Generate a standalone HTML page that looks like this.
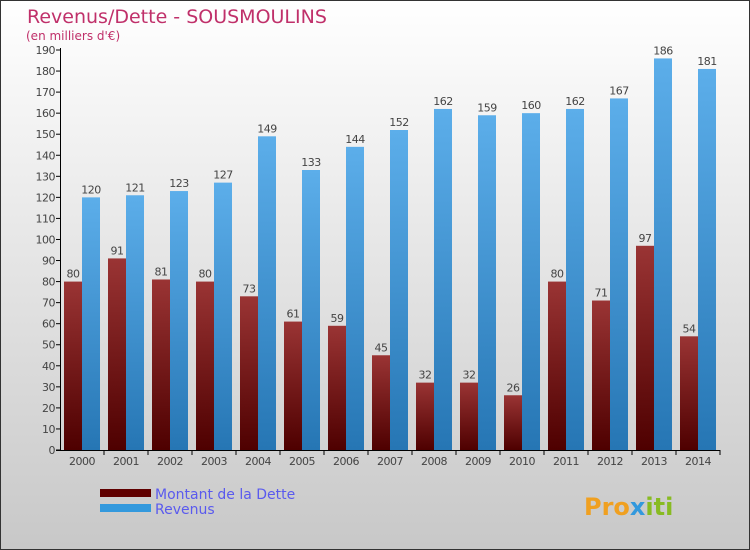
<!DOCTYPE html>
<html><head><meta charset="utf-8"><style>
body{margin:0}
#c{position:relative;width:750px;height:550px;box-sizing:border-box;border:1px solid #333;background:linear-gradient(#fff,#c8c8c8);font-family:"DejaVu Sans","Liberation Sans",sans-serif;overflow:hidden}
</style></head><body>
<div id="c">
<svg id="s" width="750" height="550" style="position:absolute;left:-1px;top:-1px">
<defs>
<linearGradient id="gd" x1="0" y1="0" x2="0" y2="1"><stop offset="0" stop-color="#9a3434"/><stop offset="1" stop-color="#4e0000"/></linearGradient>
<linearGradient id="gr" x1="0" y1="0" x2="0" y2="1"><stop offset="0" stop-color="#5caeea"/><stop offset="1" stop-color="#2676b4"/></linearGradient>
</defs>
<text x="27" y="23" font-size="19" fill="#c0306a">Revenus/Dette - SOUSMOULINS</text>
<text x="26" y="40" font-size="12" fill="#c0306a">(en milliers d'€)</text>
<g id="plot"></g>
<rect x="100" y="489" width="51" height="8" fill="#600000"/>
<rect x="100" y="504" width="51" height="8" fill="#3399dd"/>
<text x="155" y="499" font-size="14" fill="#5a5aee">Montant de la Dette</text>
<text x="155" y="514" font-size="14" fill="#5a5aee">Revenus</text>
<text x="584" y="515" font-size="24" font-weight="bold" fill="#f0a020">Pro<tspan fill="#3399dd">x</tspan><tspan fill="#88bb22">iti</tspan></text>
</svg>
</div>
<script>
const years=["2000","2001","2002","2003","2004","2005","2006","2007","2008","2009","2010","2011","2012","2013","2014"];
const dette=[80,91,81,80,73,61,59,45,32,32,26,80,71,97,54];
const revenus=[120,121,123,127,149,133,144,152,162,159,160,162,167,186,181];
const ticks=[0,10,20,30,40,50,60,70,80,90,100,110,120,130,140,150,160,170,180,190];
const NS="http://www.w3.org/2000/svg";
const g=document.getElementById('plot');
const y=v=>450-v*400/190;
const xc=i=>82+44*i;
function mk(t,a,txt){const e=document.createElementNS(NS,t);for(const k in a)e.setAttribute(k,a[k]);if(txt!==undefined)e.textContent=txt;g.appendChild(e);return e;}
ticks.forEach(t=>{
 const l=mk('line',{x1:56,x2:61,y1:y(t),y2:y(t),stroke:'#000'});
 
 
 const tx=mk('text',{x:55,y:y(t)+4,'font-size':11,fill:'#444','text-anchor':'end','letter-spacing':'-0.5'},t);
 
 
});
years.forEach((yr,i)=>{
 const c=xc(i);
 const b1=mk('rect',{x:c-18,y:y(dette[i]),width:18,height:450-y(dette[i]),fill:'url(#gd)'});
 
 
 const b2=mk('rect',{x:c,y:y(revenus[i]),width:18,height:450-y(revenus[i]),fill:'url(#gr)'});
 
 
 const v1=mk('text',{x:c-9,y:y(dette[i])-4,'font-size':11,fill:'#444','text-anchor':'middle','letter-spacing':'-0.5'},dette[i]);
 
 
 const v2=mk('text',{x:c+9,y:y(revenus[i])-4,'font-size':11,fill:'#444','text-anchor':'middle','letter-spacing':'-0.5'},revenus[i]);
 
 
 const tk=mk('line',{x1:c+22,x2:c+22,y1:450,y2:455,stroke:'#000'});
 
 
 const xl=mk('text',{x:c,y:465,'font-size':11,fill:'#444','text-anchor':'middle','letter-spacing':'-0.5'},yr);
 
 
});
const ax=mk('line',{x1:60.5,x2:60.5,y1:48,y2:450,stroke:'#000'});


const bx=mk('line',{x1:56,x2:720,y1:450.5,y2:450.5,stroke:'#000'});


</script>
</body></html>
